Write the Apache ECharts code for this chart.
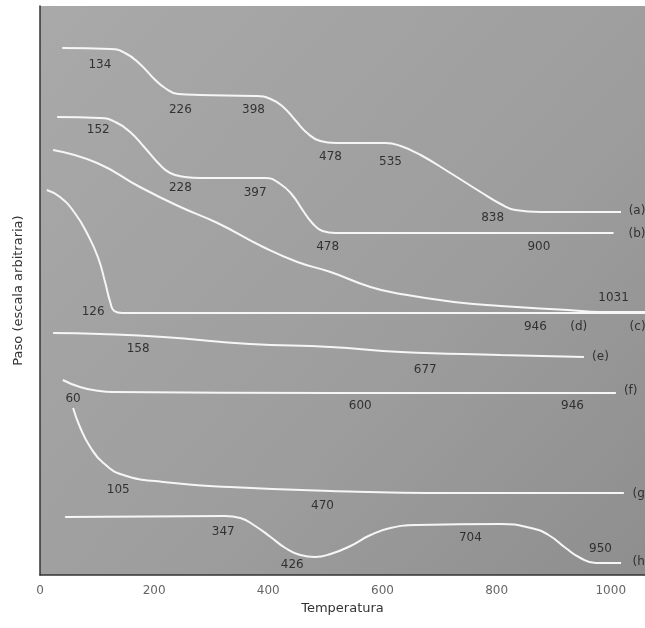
<!DOCTYPE html>
<html>
<head>
<meta charset="utf-8">
<script src="https://cdn.jsdelivr.net/npm/echarts@6/dist/echarts.min.js"></script>
<style>
  html, body { margin: 0; padding: 0; background: #fff; }
  #chart { width: 645px; height: 628px; }
</style>
</head>
<body>
<div id="chart"></div>
<script>
// curves: temperature (x) vs weight in arbitrary units (y)
var curveA_x = [39, 123, 149, 175, 202, 219, 242, 281, 377, 404, 426, 447, 468, 491, 518, 605, 632, 667, 719, 772, 807, 833, 877, 1018];
var curveA_y = [527, 526, 522, 511, 495, 487, 481, 480, 479, 476, 468, 455, 442, 434, 432, 432, 429, 420, 402, 383, 371, 365, 363, 363];

var curveB_x = [30, 105, 132, 158, 184, 207, 228, 254, 281, 395, 421, 442, 460, 477, 495, 518, 1005];
var curveB_y = [458, 457, 453, 443, 427, 412, 402, 398, 397, 397, 391, 380, 365, 352, 344, 342, 342];

var curveC_x = [23, 100, 175, 246, 311, 391, 451, 509, 579, 632, 725, 807, 925, 982, 1061];
var curveC_y = [425, 412, 388, 368, 352, 328, 313, 303, 288, 281, 273, 269, 265, 263, 263];

var curveD_x = [12, 35, 61, 84, 102, 114, 123, 130, 144, 1061];
var curveD_y = [385, 378, 362, 340, 317, 293, 273, 264, 262, 262];

var curveE_x = [23, 105, 216, 368, 509, 632, 807, 953];
var curveE_y = [242, 241, 238, 231, 228, 223, 220, 218];

var curveF_x = [40, 70, 105, 128, 509, 1009];
var curveF_y = [195, 188, 184, 183, 182, 182];

var curveG_x = [58, 70, 88, 111, 146, 216, 333, 509, 719, 1023];
var curveG_y = [167, 148, 128, 112, 100, 93, 88, 84, 82, 82];

var curveH_x = [44, 324, 351, 377, 404, 430, 456, 482, 509, 544, 579, 614, 661, 807, 860, 891, 921, 947, 974, 1018];
var curveH_y = [58, 59, 57, 49, 38, 27, 20, 18, 21, 29, 40, 47, 50, 51, 47, 40, 27, 17, 12, 12];

// annotations written on the plot
var noteText = ['134', '226', '398', '478', '535', '838', '152', '228', '397', '478', '900',
  '1031', '126', '946', '(d)', '(c)', '158', '677', '(e)', '60', '600', '946', '(f)',
  '105', '470', '(g)', '347', '426', '704', '950', '(a)', '(b)', '(h)'];
var noteX = [105, 246, 374, 509, 614, 793, 102, 246, 377, 504, 874,
  1005, 93, 868, 944, 1047, 172, 675, 982, 58, 561, 933, 1035,
  137, 495, 1053, 321, 442, 754, 982, 1046, 1046, 1053];
var noteY = [510, 465, 465, 418, 413, 357, 445, 387, 382, 328, 328,
  277, 263, 248, 248, 248, 226, 205, 218, 176, 169, 169, 184,
  85, 69, 81, 43, 10, 37, 26, 364, 341, 13];

var xTicks = [0, 200, 400, 600, 800, 1000];

function pairs(xs, ys) {
  return xs.map(function (x, i) { return [x, ys[i]]; });
}

var curves = [
  [curveA_x, curveA_y], [curveB_x, curveB_y], [curveC_x, curveC_y], [curveD_x, curveD_y],
  [curveE_x, curveE_y], [curveF_x, curveF_y], [curveG_x, curveG_y], [curveH_x, curveH_y]
];

var series = curves.map(function (c) {
  return {
    type: 'line',
    data: pairs(c[0], c[1]),
    smooth: 0.5,
    symbol: 'none',
    lineStyle: { color: '#f6f6f6', width: 2 },
    z: 3
  };
});

series.push({
  type: 'scatter',
  symbolSize: 0,
  data: noteText.map(function (t, i) { return [noteX[i], noteY[i], t]; }),
  label: {
    show: true,
    position: 'inside',
    formatter: function (p) { return p.data[2]; },
    color: '#151515',
    fontSize: 12,
    fontFamily: 'DejaVu Sans'
  },
  z: 4
});

var chart = echarts.init(document.getElementById('chart'));
chart.setOption({
  animation: false,
  grid: {
    left: 40, right: 0, top: 6, bottom: 53,
    show: true,
    borderWidth: 0,
    backgroundColor: new echarts.graphic.LinearGradient(0, 0, 1, 1, [
      { offset: 0, color: '#a9a9a9' },
      { offset: 0.6, color: '#9d9d9d' },
      { offset: 1, color: '#8e8e8e' }
    ])
  },
  xAxis: {
    type: 'value',
    min: 0, max: 1060, interval: 200,
    name: 'Temperatura',
    nameLocation: 'middle',
    nameGap: 27,
    nameTextStyle: { color: '#333', fontSize: 13, fontFamily: 'DejaVu Sans' },
    axisLine: { show: true, lineStyle: { color: '#333', width: 1.5 } },
    axisTick: { show: false },
    splitLine: { show: false },
    axisLabel: {
      color: '#666', fontSize: 12, margin: 10, fontFamily: 'DejaVu Sans',
      customValues: xTicks,
      formatter: function (v) { return String(v); }
    }
  },
  yAxis: {
    type: 'value',
    min: 0, max: 569,
    name: 'Paso (escala arbitraria)',
    nameLocation: 'middle',
    nameGap: 15,
    nameTextStyle: { color: '#333', fontSize: 13, fontFamily: 'DejaVu Sans' },
    axisLine: { show: true, lineStyle: { color: '#333', width: 1.5 } },
    axisTick: { show: false },
    axisLabel: { show: false },
    splitLine: { show: false }
  },
  series: series
});
</script>
</body>
</html>
